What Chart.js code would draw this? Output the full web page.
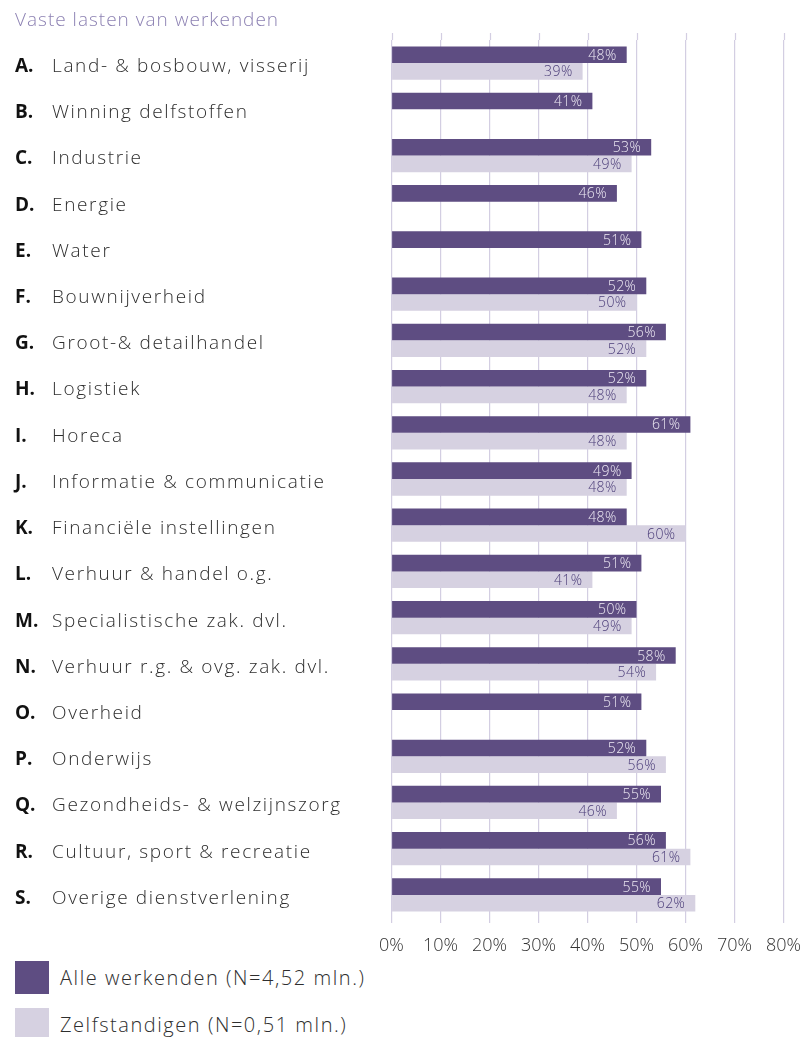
<!DOCTYPE html>
<html>
<head>
<meta charset="utf-8">
<script src="https://cdn.jsdelivr.net/npm/chart.js@4.4.1/dist/chart.umd.min.js"></script>
<style>
  html, body { margin: 0; padding: 0; background: #ffffff; }
  body { width: 807px; height: 1037px; position: relative; overflow: hidden; font-family: "Open Sans", Lato, sans-serif; }
  #title { position: absolute; left: 15px; top: 6px; font-size: 19px; font-weight: 300; letter-spacing: 1px; color: #8d82b3; white-space: nowrap; }
  #wrap { position: absolute; left: 0; top: 0; width: 807px; height: 960px; }
  .leg { position: absolute; left: 15px; height: 33px; display: flex; align-items: center; font-size: 20px; font-weight: 300; letter-spacing: 1.55px; color: #2e2e2e; white-space: nowrap; }
  .sw { width: 34px; height: 33px; margin-right: 11px; flex: none; }
</style>
</head>
<body>
<div id="wrap"><canvas id="c" width="807" height="960"></canvas></div>
<div id="title">Vaste lasten van werkenden</div>
<div id="legend"></div>
<script>
const letters = ["A.","B.","C.","D.","E.","F.","G.","H.","I.","J.","K.","L.","M.","N.","O.","P.","Q.","R.","S."];
const categories = ["Land- & bosbouw, visserij","Winning delfstoffen","Industrie","Energie","Water","Bouwnijverheid","Groot-& detailhandel","Logistiek","Horeca","Informatie & communicatie","Financiële instellingen","Verhuur & handel o.g.","Specialistische zak. dvl.","Verhuur r.g. & ovg. zak. dvl.","Overheid","Onderwijs","Gezondheids- & welzijnszorg","Cultuur, sport & recreatie","Overige dienstverlening"];
const alleWerkenden = [48,41,53,46,51,52,56,52,61,49,48,51,50,58,51,52,55,56,55];
const zelfstandigen = [39,null,49,null,null,50,52,48,48,48,60,41,49,54,null,56,46,61,62];
const seriesNames = ["Alle werkenden (N=4,52 mln.)","Zelfstandigen (N=0,51 mln.)"];
const seriesColors = ["#5e4d82","#d6d1e1"];
const valueColors = ["#eeeaf4","#4a3c78"];
const xTicks = [0,10,20,30,40,50,60,70,80];

const FONT = "'Open Sans', Lato, sans-serif";

const extraPlugin = {
  id: 'extra',
  beforeDatasetsDraw(chart) {
    const ctx = chart.ctx, xs = chart.scales.x, a = chart.chartArea;
    ctx.save();
    ctx.strokeStyle = '#d3cee2';
    ctx.lineWidth = 1.2;
    xs.ticks.forEach(t => {
      const px = Math.round(xs.getPixelForValue(t.value)) + 0.5;
      ctx.beginPath(); ctx.moveTo(px, a.top - 7); ctx.lineTo(px, a.top); ctx.stroke();
    });
    ctx.restore();
  },
  afterDatasetsDraw(chart) {
    const ctx = chart.ctx;
    ctx.save();
    ctx.font = "300 14px " + FONT;
    ctx.letterSpacing = '0.4px';
    ctx.textAlign = 'right';
    ctx.textBaseline = 'middle';
    chart.data.datasets.forEach((ds, di) => {
      const meta = chart.getDatasetMeta(di);
      meta.data.forEach((bar, i) => {
        const v = ds.data[i];
        if (v === null || v === undefined) return;
        ctx.fillStyle = valueColors[di];
        ctx.fillText(v + '%', bar.x - 10, bar.y + 1);
      });
    });
    ctx.restore();
  },
  afterDraw(chart) {
    const ctx = chart.ctx, ys = chart.scales.y;
    ctx.save();
    ctx.textAlign = 'left';
    ctx.textBaseline = 'middle';
    letters.forEach((l, i) => {
      const y = ys.getPixelForValue(i) + 3.5;
      ctx.font = "bold 19px " + FONT;
      ctx.letterSpacing = '0px';
      ctx.fillStyle = '#111111';
      ctx.fillText(l, 15, y);
      ctx.font = "300 19px " + FONT;
      ctx.letterSpacing = '1.65px';
      ctx.fillStyle = '#2e2e2e';
      ctx.fillText(chart.data.labels[i], 52, y);
    });
    ctx.restore();
  }
};

new Chart(document.getElementById('c'), {
  type: 'bar',
  data: {
    labels: categories,
    datasets: [
      { label: seriesNames[0], data: alleWerkenden, backgroundColor: seriesColors[0], barPercentage: 1, categoryPercentage: 0.72 },
      { label: seriesNames[1], data: zelfstandigen, backgroundColor: seriesColors[1], barPercentage: 1, categoryPercentage: 0.72 }
    ]
  },
  options: {
    indexAxis: 'y',
    responsive: false,
    animation: false,
    layout: { padding: { left: 52, top: 40, right: 23.5, bottom: 0 } },
    plugins: { legend: { display: false }, tooltip: { enabled: false } },
    scales: {
      x: {
        position: 'bottom',
        min: 0, max: 80,
        afterBuildTicks(s) { s.ticks = xTicks.map(v => ({ value: v })); },
        afterFit(s) { s.height = 42; s.paddingRight = 0; s.paddingLeft = 0; },
        grid: { color: '#d3cee2', lineWidth: 1.2, drawTicks: true, tickLength: 5, tickColor: '#d3cee2' },
        border: { display: false },
        ticks: { padding: 12, color: '#333333', font: { family: FONT, size: 18, weight: '300' }, callback: v => v + '%', maxRotation: 0, autoSkip: false }
      },
      y: {
        position: 'left',
        afterFit(s) { s.width = 391.5 - 52; },
        grid: { display: false },
        border: { display: false },
        ticks: { display: false }
      }
    }
  },
  plugins: [extraPlugin]
});

// HTML legend
const legend = document.getElementById('legend');
const legendTops = [961, 1008];
seriesNames.forEach((n, i) => {
  const d = document.createElement('div');
  d.className = 'leg';
  d.style.top = legendTops[i] + 'px';
  const sw = document.createElement('div');
  sw.className = 'sw';
  sw.style.background = seriesColors[i];
  const t = document.createElement('span');
  t.textContent = n;
  d.appendChild(sw); d.appendChild(t);
  legend.appendChild(d);
});
</script>
</body>
</html>
